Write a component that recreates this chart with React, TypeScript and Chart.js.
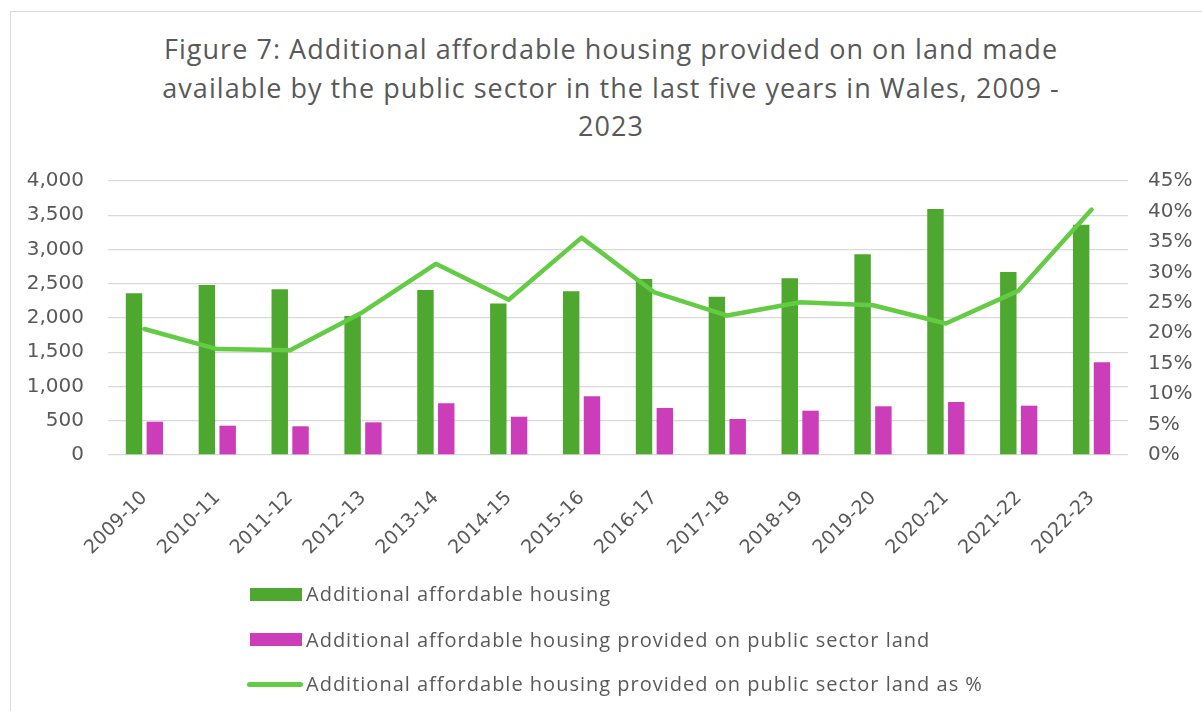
import React, { useEffect, useRef } from "react";
import { Chart, registerables } from "chart.js";

Chart.register(...registerables);

const categories = [
  "2009-10", "2010-11", "2011-12", "2012-13", "2013-14", "2014-15", "2015-16",
  "2016-17", "2017-18", "2018-19", "2019-20", "2020-21", "2021-22", "2022-23",
];
const additionalHousing = [2360, 2480, 2420, 2030, 2410, 2210, 2390, 2570, 2310, 2580, 2930, 3590, 2670, 3360];
const publicLandHousing = [486, 428, 419, 477, 755, 559, 857, 686, 526, 647, 711, 774, 720, 1353];
const publicLandPercent = [20.7, 17.4, 17.2, 23.5, 31.4, 25.5, 35.7, 26.7, 22.9, 25.1, 24.6, 21.6, 27.0, 40.3];

const titleLines = [
  "Figure 7: Additional affordable housing provided on on land made",
  "available by the public sector in the last five years in Wales, 2009 -",
  "2023",
];
const seriesLabels = [
  "Additional affordable housing",
  "Additional affordable housing provided on public sector land",
  "Additional affordable housing provided on public sector land as %",
];

const GREEN = "#4EA72E";
const PINK = "#CC3EB9";
const LINE_GREEN = "#63CB44";
const TEXT = "#595959";

export default function App() {
  const canvasRef = useRef<HTMLCanvasElement | null>(null);

  useEffect(() => {
    const canvas = canvasRef.current;
    if (!canvas) return;
    const chart = new Chart(canvas, {
      type: "bar",
      data: {
        labels: categories,
        datasets: [
          {
            type: "line",
            label: seriesLabels[2],
            data: publicLandPercent,
            yAxisID: "y1",
            borderColor: LINE_GREEN,
            backgroundColor: LINE_GREEN,
            borderWidth: 4.5,
            pointRadius: 0,
            pointHoverRadius: 0,
            borderCapStyle: "round",
            borderJoinStyle: "round",
            tension: 0,
            order: 0,
          },
          {
            type: "bar",
            label: seriesLabels[0],
            data: additionalHousing,
            yAxisID: "y",
            backgroundColor: GREEN,
            categoryPercentage: 0.571,
            barPercentage: 0.79,
            order: 1,
          },
          {
            type: "bar",
            label: seriesLabels[1],
            data: publicLandHousing,
            yAxisID: "y",
            backgroundColor: PINK,
            categoryPercentage: 0.571,
            barPercentage: 0.79,
            order: 1,
          },
        ],
      },
      options: {
        responsive: false,
        animation: false,
        devicePixelRatio: 1,
        layout: { padding: { left: 20, right: 0, top: 181, bottom: 156 } },
        plugins: {
          legend: { display: false },
          tooltip: { enabled: false },
          title: { display: false },
        },
        scales: {
          x: {
            grid: { display: false },
            border: { display: false },
            ticks: {
              color: TEXT,
              font: { family: "'DejaVu Sans', sans-serif", size: 19 },
              maxRotation: 45,
              minRotation: 45,
              autoSkip: false,
              padding: 24,
            },
            afterFit: (scale: any) => {
              scale.height = 100;
            },
          },
          y: {
            position: "left",
            min: 0,
            max: 4000,
            grid: { color: "#D9D9D9", lineWidth: 1.3, drawTicks: false },
            border: { display: false },
            ticks: {
              stepSize: 500,
              color: TEXT,
              font: { family: "'DejaVu Sans', sans-serif", size: 20 },
              padding: 24,
              callback: (v: any) => Number(v).toLocaleString("en-US"),
            },
            afterFit: (scale: any) => {
              scale.width = 88;
            },
          },
          y1: {
            position: "right",
            min: 0,
            max: 45,
            grid: { display: false, drawTicks: false },
            border: { display: false },
            ticks: {
              stepSize: 5,
              color: TEXT,
              font: { family: "'DejaVu Sans', sans-serif", size: 20 },
              padding: 20,
              callback: (v: any) => `${v}%`,
            },
            afterFit: (scale: any) => {
              scale.width = 74;
            },
          },
        },
      },
    });
    return () => chart.destroy();
  }, []);

  const legendText: React.CSSProperties = {
    position: "absolute",
    left: 306,
    fontFamily: "'Open Sans', sans-serif",
    fontSize: 20,
    letterSpacing: "1px",
    color: TEXT,
    lineHeight: "26px",
    whiteSpace: "nowrap",
  };

  return (
    <div
      style={{
        position: "fixed",
        left: 0,
        top: 0,
        width: 1202,
        height: 711,
        overflow: "hidden",
        background: "#FFFFFF",
      }}
    >
      <div
        style={{
          position: "absolute",
          left: 10,
          top: 11,
          width: 1300,
          height: 800,
          border: "1px solid #D9D9D9",
        }}
      />
      <div
        style={{
          position: "absolute",
          left: 10,
          top: 30,
          width: 1202,
          textAlign: "center",
          fontFamily: "'Open Sans', sans-serif",
          fontSize: 27,
          letterSpacing: "1.05px",
          lineHeight: "38.7px",
          color: TEXT,
          whiteSpace: "nowrap",
        }}
      >
        {titleLines.map((line, i) => (
          <div key={i}>{line}</div>
        ))}
      </div>
      <canvas ref={canvasRef} width={1202} height={711} style={{ position: "absolute", left: 0, top: 0 }} />
      <div style={{ position: "absolute", left: 250, top: 588, width: 52, height: 13, background: GREEN }} />
      <div style={{ ...legendText, top: 594 - 13 }}>{seriesLabels[0]}</div>
      <div style={{ position: "absolute", left: 250, top: 633, width: 52, height: 13, background: PINK }} />
      <div style={{ ...legendText, top: 640 - 13 }}>{seriesLabels[1]}</div>
      <div
        style={{
          position: "absolute",
          left: 247,
          top: 682,
          width: 56,
          height: 5,
          borderRadius: 3,
          background: LINE_GREEN,
        }}
      />
      <div style={{ ...legendText, top: 684 - 13 }}>{seriesLabels[2]}</div>
    </div>
  );
}
